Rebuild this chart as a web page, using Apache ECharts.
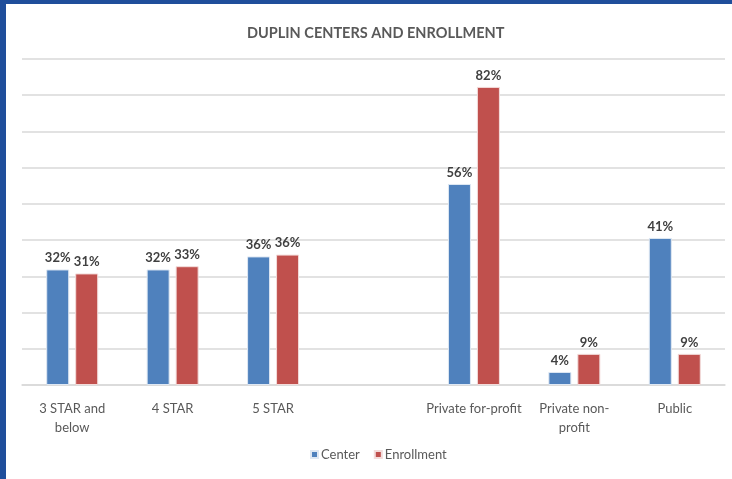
<!DOCTYPE html>
<html>
<head>
<meta charset="utf-8">
<script src="https://cdn.jsdelivr.net/npm/echarts@6/dist/echarts.min.js"></script>
<style>
    html, body { margin: 0; padding: 0; background: #fff; }
    #chart { width: 732px; height: 479px; }
</style>
</head>
<body>
<div id="chart"></div>
<script>
// data (percent)
var categories = ['3 STAR and\nbelow', '4 STAR', '5 STAR', '', 'Private for-profit', 'Private non-\nprofit', 'Public'];
var centerData = [31.9, 31.9, 35.5, null, 55.5, 3.6, 40.6];
var enrollmentData = [30.8, 32.8, 36, null, 82.3, 8.6, 8.6];
var seriesNames = ['Center', 'Enrollment'];

var chart = echarts.init(document.getElementById('chart'));

var labelStyle = {
    show: true,
    position: 'top',
    distance: 5,
    color: '#404040',
    fontFamily: 'Lato',
    fontWeight: 'bold',
    fontSize: 13,
    formatter: function (p) { return Math.round(p.value) + '%'; }
};

var option = {
    backgroundColor: '#fff',
    animation: false,
    title: {
        text: 'DUPLIN CENTERS AND ENROLLMENT',
        left: 242,
        top: 21,
        textStyle: {
            color: '#595959',
            fontFamily: 'Lato',
            fontWeight: 'bold',
            fontSize: 14.5
        }
    },
    legend: {
        data: seriesNames,
        bottom: 13,
        left: 305,
        itemWidth: 7,
        itemHeight: 7,
        itemGap: 14,
        icon: 'rect',
        textStyle: { color: '#595959', fontFamily: 'Lato', fontSize: 13, padding: [0, 0, 0, -2] }
    },
    grid: { left: 22, right: 7, top: 59, bottom: 94 },
    xAxis: {
        type: 'category',
        data: categories,
        axisLine: { lineStyle: { color: '#d9d9d9', width: 1.5 } },
        axisTick: { show: false },
        axisLabel: {
            color: '#595959',
            fontFamily: 'Lato',
            fontSize: 13,
            margin: 14,
            lineHeight: 19,
            interval: 0
        }
    },
    yAxis: {
        type: 'value',
        min: 0,
        max: 90,
        interval: 10,
        axisLabel: { show: false },
        axisLine: { show: false },
        axisTick: { show: false },
        splitLine: { lineStyle: { color: '#d9d9d9', width: 1.5 } }
    },
    series: [{
        name: seriesNames[0],
        type: 'bar',
        data: centerData,
        barWidth: 23,
        barGap: '26%',
        itemStyle: { color: '#4F81BD', borderColor: '#dfe8f3', borderWidth: 1 },
        label: labelStyle
    }, {
        name: seriesNames[1],
        type: 'bar',
        data: enrollmentData,
        barWidth: 23,
        itemStyle: { color: '#C0504D', borderColor: '#f3dcdb', borderWidth: 1 },
        label: labelStyle
    }],
    graphic: [
        { type: 'rect', left: 0, top: 0, shape: { width: 6, height: 479 }, style: { fill: '#1f4e9b' } },
        { type: 'rect', left: 0, top: 0, shape: { width: 732, height: 4 }, style: { fill: '#1f4e9b' } }
    ]
};

chart.setOption(option);
</script>
</body>
</html>
